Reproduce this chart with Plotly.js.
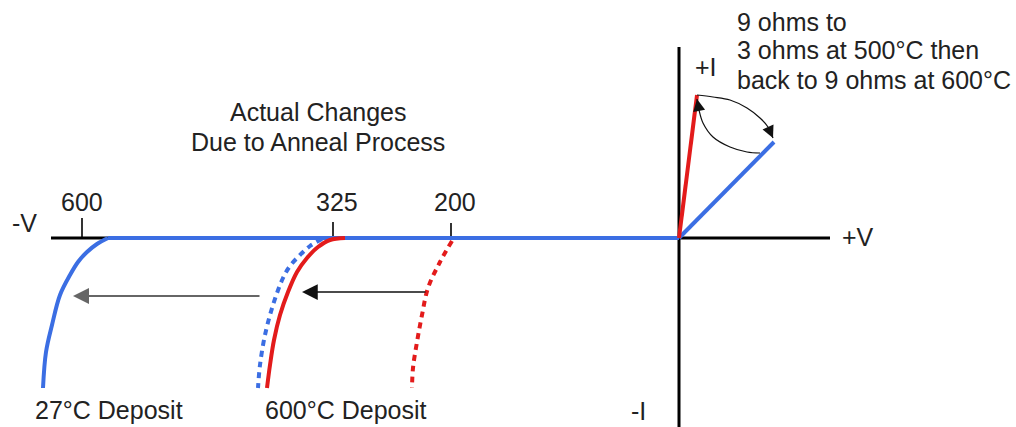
<!DOCTYPE html>
<html><head><meta charset="utf-8">
<script src="https://cdn.plot.ly/plotly-3.0.1.min.js"></script>
<style>html,body{margin:0;padding:0;background:#fff}#chart{width:1016px;height:427px}</style>
</head><body><div id="chart"></div>
<script>
// ---- data (V = voltage axis units, I = current axis units) ----
const vAxisV = [-62.8, 15.1];
const vAxisI = [0, 0];
const iAxisV = [0, 0];
const iAxisI = [19.1, -19.2];

const baseV = [-57.1, 0];
const baseI = [0, 0];

const dep27V = [-57.1, -58.2, -59.2, -60.1, -60.9, -61.9, -62.7, -63.3, -63.6];
const dep27I = [0, -0.6, -1.4, -2.4, -3.7, -5.7, -8.7, -11.4, -15.0];

const blueDotV = [-35.7, -36.9, -37.9, -38.9, -39.6, -40.6, -41.4, -41.9, -42.1];
const blueDotI = [-0.1, -0.8, -1.7, -2.8, -4.0, -6.7, -9.7, -12.7, -15.0];

const dep600V = [-33.4, -34.9, -36.1, -37.2, -38.2, -39.1, -39.9, -40.5, -40.9, -41.2];
const dep600I = [0, -0.2, -0.9, -2.0, -3.4, -5.4, -7.7, -10.2, -12.7, -15.0];

const redDotV = [-22.7, -23.9, -25.1, -25.7, -26.2, -26.6, -26.7];
const redDotI = [-0.3, -2.4, -5.0, -7.7, -10.4, -13.0, -15.0];

const fwdBlueV = [0, 9.5];
const fwdBlueI = [0, 9.6];
const fwdRedV = [0, 1.8];
const fwdRedI = [0, 14.3];

const tickV = [-59.7, -34.6, -22.8];
const tickTopI = [2.0, 1.6, 1.5];
const tickLabels = ['600', '325', '200'];
const tickLabelV = [-59.7, -34.2, -22.4];
const tickLabelI = 3.6;

const shiftTailV = [-41.8, -25.2];
const shiftHeadV = [-60.6, -37.7];
const shiftI = [-5.8, -5.4];

const upperArcV = [1.8, 3.4, 5.1, 6.8, 8.1, 8.9, 9.4];
const upperArcI = [14.3, 14.1, 13.8, 13.0, 12.0, 11.1, 10.0];
const lowerArcV = [8.1, 6.8, 5.1, 3.4, 2.4, 2.0, 1.8];
const lowerArcI = [8.5, 8.6, 9.1, 10.1, 11.5, 12.8, 13.9];

const noteLines = ['9 ohms to', '3 ohms at 500°C then', 'back to 9 ohms at 600°C'];
const noteV = 5.6;
const noteI = [21.6, 18.8, 15.8];

const titleLines = ['Actual Changes', 'Due to Anneal Process'];
const titleV = -36.1;
const titleI = [12.6, 9.6];

const depositLabels = ['27°C Deposit', '600°C Deposit'];
const depositV = [-57.0, -33.3];
const depositI = -17.2;

const axisLabels = ['-V', '+V', '+I'];
const axisLabelV = [-65.5, 17.9, 2.7];
const axisLabelI = [1.5, 0.1, 17.1];
const negILabel = '-I';
const negILabelV = -4.1;
const negILabelI = -18.9;

// ---- styles ----
const BLUE = '#3b6ee3';
const RED = '#e31b1b';
const TXT = '#222222';
const FONT = 'Arial, "Liberation Sans", sans-serif';

function line(x, y, color, width, dash, shape) {
  return {x: x, y: y, mode: 'lines', type: 'scatter', hoverinfo: 'skip',
    line: {color: color, width: width, dash: dash || 'solid', shape: shape || 'linear', smoothing: 1}};
}

const tickX = [], tickY = [];
tickV.forEach((v, i) => { tickX.push(v, v, null); tickY.push(0, tickTopI[i], null); });

const traces = [
  line(vAxisV, vAxisI, '#000', 3),
  line(iAxisV, iAxisI, '#000', 3),
  line(tickX, tickY, '#000', 1.6),
  line(baseV, baseI, BLUE, 4),
  line(dep27V, dep27I, BLUE, 4, 'solid', 'spline'),
  line(blueDotV, blueDotI, BLUE, 4, '6px,5px', 'spline'),
  line(dep600V, dep600I, RED, 4, 'solid', 'spline'),
  line(redDotV, redDotI, RED, 4, '6px,5px', 'spline'),
  line(fwdBlueV, fwdBlueI, BLUE, 4),
  line(fwdRedV, fwdRedI, RED, 4),
  line(upperArcV, upperArcI, '#111', 1.2, 'solid', 'spline'),
  line(lowerArcV, lowerArcI, '#111', 1.2, 'solid', 'spline')
];

const ann = [];
function txt(t, x, y, xa, ya) {
  ann.push({text: t, x: x, y: y, xref: 'x', yref: 'y', showarrow: false,
    xanchor: xa || 'center', yanchor: ya || 'middle', font: {family: FONT, size: 25, color: TXT}});
}
tickLabels.forEach((t, i) => txt(t, tickLabelV[i], tickLabelI));
noteLines.forEach((t, i) => txt(t, noteV, noteI[i], 'left'));
titleLines.forEach((t, i) => txt(t, titleV, titleI[i]));
depositLabels.forEach((t, i) => txt(t, depositV[i], depositI));
axisLabels.forEach((t, i) => txt(t, axisLabelV[i], axisLabelI[i]));
txt(negILabel, negILabelV, negILabelI, 'center', 'bottom');

function arrow(hx, hy, tx, ty, color, w, size) {
  ann.push({text: '', x: hx, y: hy, ax: tx, ay: ty, xref: 'x', yref: 'y', axref: 'x', ayref: 'y',
    showarrow: true, arrowhead: 2, arrowsize: size, arrowwidth: w, arrowcolor: color, standoff: 0, startstandoff: 0});
}
arrow(shiftHeadV[0], shiftI[0], shiftTailV[0], shiftI[0], '#666', 2, 1.6);
arrow(shiftHeadV[1], shiftI[1], shiftTailV[1], shiftI[1], '#111', 1.5, 2.1);
const nU = upperArcV.length, nL = lowerArcV.length;
arrow(upperArcV[nU-1], upperArcI[nU-1], upperArcV[nU-2], upperArcI[nU-2], '#111', 1.2, 2.0);
arrow(lowerArcV[nL-1], lowerArcI[nL-1], lowerArcV[nL-2], lowerArcI[nL-2], '#111', 1.2, 2.0);

const layout = {
  width: 1016, height: 427,
  margin: {l: 0, r: 0, t: 0, b: 0, pad: 0},
  paper_bgcolor: '#fff', plot_bgcolor: '#fff',
  showlegend: false,
  xaxis: {range: [-67.9, 33.7], visible: false, fixedrange: true},
  yaxis: {range: [-18.9, 23.8], visible: false, fixedrange: true},
  annotations: ann
};
Plotly.newPlot('chart', traces, layout, {displayModeBar: false, staticPlot: true});
</script></body></html>
